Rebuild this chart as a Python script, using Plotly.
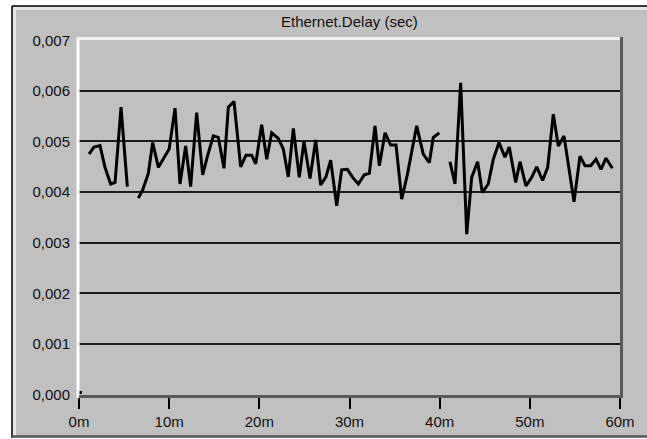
import plotly.graph_objects as go

# ---- data (minutes, seconds) ----
minutes = [
    1.11, 1.66, 2.33, 2.88, 3.51, 4.0, 4.66, 5.36,
    None,
    6.58, 7.06, 7.69, 8.17, 8.80, 9.43, 10.0, 10.65, 11.2, 11.83, 12.38,
    13.05, 13.72, 14.23, 14.9, 15.45, 16.08, 16.56, 17.19, 17.93, 18.52,
    19.15, 19.6, 20.26, 20.82, 21.37, 22.1, 22.66, 23.21, 23.77, 24.43,
    24.95, 25.62, 26.25, 26.8, 27.39, 27.91, 28.58, 29.13, 29.76, 30.35,
    30.98, 31.64, 32.2, 32.83, 33.31, 33.94, 34.57, 35.16, 35.79, 36.41,
    37.45, 38.18, 38.85, 39.29, 39.96,
    None,
    41.14, 41.7, 42.33, 43.0, 43.55, 44.21, 44.73, 45.39, 45.95, 46.58,
    47.24, 47.72, 48.43, 48.91, 49.57, 50.2, 50.76, 51.42, 51.98, 52.6,
    53.16, 53.79, 54.9, 55.56, 56.12, 56.75, 57.34, 57.89, 58.45, 59.15,
]
delay = [
    0.00475, 0.00489, 0.00492, 0.00449, 0.00416, 0.00419, 0.00568, 0.00411,
    None,
    0.00388, 0.00404, 0.00437, 0.00498, 0.00449, 0.00467, 0.00485, 0.00566, 0.00416, 0.00491, 0.00411,
    0.00557, 0.00434, 0.00470, 0.00511, 0.00508, 0.00447, 0.00568, 0.00579, 0.00450, 0.00473,
    0.00473, 0.00456, 0.00533, 0.00465, 0.00517, 0.00506, 0.00485, 0.00430, 0.00526, 0.00429,
    0.00500, 0.00427, 0.00503, 0.00414, 0.00430, 0.00463, 0.00373, 0.00444, 0.00445, 0.00429,
    0.00416, 0.00434, 0.00437, 0.00531, 0.00452, 0.00517, 0.00493, 0.00493, 0.00386, 0.00434,
    0.00531, 0.00475, 0.00458, 0.00508, 0.00517,
    None,
    0.00460, 0.00416, 0.00616, 0.00317, 0.00429, 0.00460, 0.00399, 0.00416, 0.00465, 0.00498,
    0.00469, 0.00489, 0.00419, 0.00460, 0.00412, 0.00429, 0.00450, 0.00423, 0.00449, 0.00554,
    0.00491, 0.00511, 0.00381, 0.00471, 0.00452, 0.00452, 0.00465, 0.00445, 0.00467, 0.00447,
]
start_x = [0.15]
start_y = [0.00004]

y_ticks = [0.000, 0.001, 0.002, 0.003, 0.004, 0.005, 0.006, 0.007]
y_text = ["0,000", "0,001", "0,002", "0,003", "0,004", "0,005", "0,006", "0,007"]
x_ticks = [0, 10, 20, 30, 40, 50, 60]
x_text = ["0m", "10m", "20m", "30m", "40m", "50m", "60m"]
title = "Ethernet.Delay (sec)"

W, H = 647, 439
GRAY = "#c0c0c0"
FONT = "Liberation Sans, Arial, sans-serif"

def px(x):
    return x / W

def py(y):
    return 1 - y / H

fig = go.Figure()
fig.add_trace(go.Scatter(x=minutes, y=delay, mode="lines",
                         line=dict(color="black", width=3),
                         connectgaps=False, showlegend=False))
fig.add_trace(go.Scatter(x=start_x, y=start_y, mode="markers",
                         marker=dict(color="black", size=3, symbol="square"),
                         showlegend=False))

shapes = []
# outer panel
shapes.append(dict(type="rect", xref="paper", yref="paper", layer="below",
                   x0=px(12), x1=px(660), y0=py(437), y1=py(6),
                   fillcolor=GRAY, line=dict(width=0)))
# panel highlights
shapes.append(dict(type="line", xref="paper", yref="paper", layer="below",
                   x0=px(14.5), x1=px(14.5), y0=py(436), y1=py(8),
                   line=dict(color="#e6e6e6", width=3)))
shapes.append(dict(type="line", xref="paper", yref="paper", layer="below",
                   x0=px(13), x1=px(660), y0=py(8.5), y1=py(8.5),
                   line=dict(color="#e6e6e6", width=3)))
# panel borders
shapes.append(dict(type="line", xref="paper", yref="paper", layer="below",
                   x0=px(12), x1=px(12), y0=py(438), y1=py(6),
                   line=dict(color="black", width=1.5)))
shapes.append(dict(type="line", xref="paper", yref="paper", layer="below",
                   x0=px(12), x1=px(660), y0=py(6), y1=py(6),
                   line=dict(color="black", width=1.5)))
shapes.append(dict(type="line", xref="paper", yref="paper", layer="below",
                   x0=px(12), x1=px(660), y0=py(436.5), y1=py(436.5),
                   line=dict(color="#555555", width=2.5)))
# plot area 3D edges
shapes.append(dict(type="line", xref="paper", yref="paper", layer="above",
                   x0=px(78), x1=px(78), y0=py(398), y1=py(37),
                   line=dict(color="white", width=3)))
shapes.append(dict(type="line", xref="paper", yref="paper", layer="above",
                   x0=px(77), x1=px(621), y0=py(38.5), y1=py(38.5),
                   line=dict(color="#f2f2f2", width=3)))
shapes.append(dict(type="line", xref="paper", yref="paper", layer="above",
                   x0=px(621.5), x1=px(621.5), y0=py(398), y1=py(37),
                   line=dict(color="#5a5a5a", width=3)))
shapes.append(dict(type="line", xref="paper", yref="paper", layer="above",
                   x0=px(79), x1=px(623), y0=py(396.5), y1=py(396.5),
                   line=dict(color="#5a5a5a", width=3)))

fig.update_layout(
    width=W, height=H,
    margin=dict(l=0, r=0, t=0, b=0),
    paper_bgcolor="white",
    plot_bgcolor="rgba(0,0,0,0)",
    template="none",
    shapes=shapes,
    font=dict(family=FONT, size=15, color="#111111"),
    annotations=[dict(text=title, xref="paper", yref="paper",
                      x=px(349), y=py(22), showarrow=False,
                      xanchor="center", yanchor="middle",
                      font=dict(family=FONT, size=15, color="#111111"))],
    xaxis=dict(domain=[px(79), px(621)], range=[0, 60.11],
               tickvals=x_ticks, ticktext=x_text,
               ticks="outside", ticklen=11, tickwidth=2, tickcolor="black",
               showgrid=False, zeroline=False, showline=False,
               automargin=False, fixedrange=True),
    yaxis=dict(domain=[py(397), py(38)], range=[-0.0000494, 0.007045],
               tickvals=y_ticks, ticktext=y_text,
               ticks="", ticklabelstandoff=8,
               showgrid=False, zeroline=False, showline=False,
               minor=dict(tickvals=y_ticks[1:-1], showgrid=True,
                          gridcolor="#1c1c1c", gridwidth=1.5, ticks=""),
               automargin=False, fixedrange=True),
)

fig.write_html("out.html")
